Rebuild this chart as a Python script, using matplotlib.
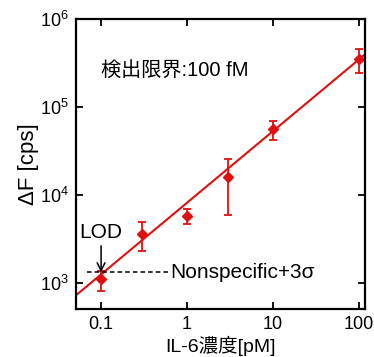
import matplotlib
matplotlib.use('Agg')
import matplotlib.pyplot as plt
import numpy as np

plt.rcParams['font.family'] = ['Liberation Sans', 'Noto Sans CJK JP', 'DejaVu Sans']

# data
conc = [0.1, 0.3, 1, 3, 10, 100]           # IL-6 [pM]
dF = [1110, 3600, 5800, 16000, 56000, 350000]
err_lo = [295, 1300, 1100, 10000, 14000, 105000]
err_hi = [260, 1300, 1100, 9600, 13000, 100000]

# fitted line log10(dF) = a*log10(c) + b
fit_a = 0.814
fit_b = 3.914
fit_x = [0.05, 120]

threshold = 1330   # nonspecific + 3 sigma
thr_x = [0.069, 0.6]
lod = 0.1

red = '#e01010'

fig = plt.figure(figsize=(3.74, 3.57), dpi=100)
ax = fig.add_axes([0.203, 0.134, 0.773, 0.813])

fx = np.array(fit_x)
ax.plot(fx, 10 ** (fit_a * np.log10(fx) + fit_b), color=red, lw=1.5)
ax.errorbar(conc, dF, yerr=[err_lo, err_hi], fmt='D', color=red, ms=5,
            ecolor=red, elinewidth=1.3, capsize=3, capthick=1.3)

ax.plot(thr_x, [threshold, threshold], 'k--', lw=1.1, dashes=(3, 2))
ax.text(0.63, threshold, 'Nonspecific+3σ', fontsize=15, va='center', ha='left')

ax.annotate('LOD', xy=(lod, threshold), xytext=(lod, 3800),
            ha='center', va='center', fontsize=15,
            arrowprops=dict(arrowstyle='->', color='k', lw=1.1,
                            shrinkA=1, shrinkB=0, mutation_scale=14))

ax.text(0.1, 2.6e5, '検出限界:100 fM', fontsize=14.5, ha='left', va='center')

ax.set_xscale('log')
ax.set_yscale('log')
ax.set_xlim(0.051, 117)
ax.set_ylim(507, 1e6)
ax.set_xticks([0.1, 1, 10, 100])
ax.set_xticklabels(['0.1', '1', '10', '100'])
ax.minorticks_off()
ax.tick_params(which='major', direction='in', length=5, width=1.3,
               top=True, right=True, labelsize=13, pad=5)
for s in ax.spines.values():
    s.set_linewidth(1.6)

ax.set_xlabel('IL-6濃度[pM]', fontsize=14, labelpad=2)
ax.set_ylabel('ΔF [cps]', fontsize=16, labelpad=1)

fig.savefig('out.png', dpi=100)
